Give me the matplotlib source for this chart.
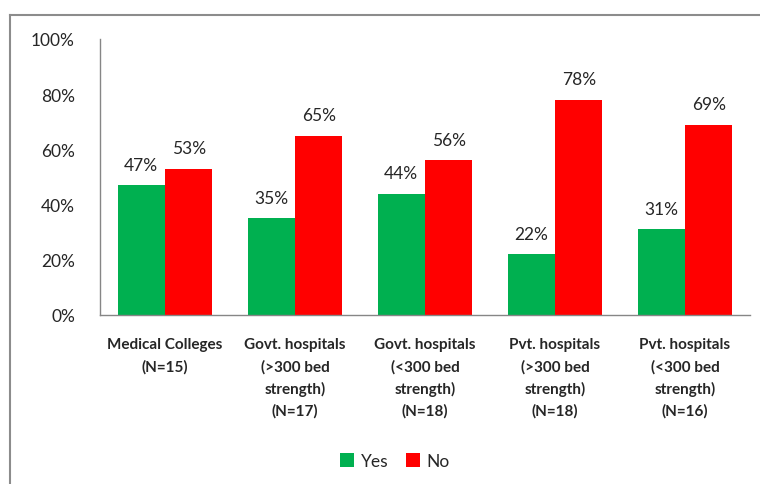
import numpy as np
import matplotlib
matplotlib.use('Agg')
import matplotlib.pyplot as plt
from matplotlib.lines import Line2D

categories = ['Medical Colleges\n(N=15)',
              'Govt. hospitals\n(>300 bed\nstrength)\n(N=17)',
              'Govt. hospitals\n(<300 bed\nstrength)\n(N=18)',
              'Pvt. hospitals\n(>300 bed\nstrength)\n(N=18)',
              'Pvt. hospitals\n(<300 bed\nstrength)\n(N=16)']
yes_vals = [47, 35, 44, 22, 31]
no_vals = [53, 65, 56, 78, 69]

GREEN = '#00B050'
RED = '#FF0000'
AXIS = '#868686'
TEXT = '#262626'

plt.rcParams['font.family'] = ['Lato', 'DejaVu Sans']

fig = plt.figure(figsize=(7.6, 4.85), dpi=100)
ax = fig.add_axes([100/760, 1 - 316/485, 650/760, 276/485])

x = np.arange(len(categories))
w = 0.365
b1 = ax.bar(x - w/2, yes_vals, w, color=GREEN, label='Yes')
b2 = ax.bar(x + w/2, no_vals, w, color=RED, label='No')

for bars, vals in ((b1, yes_vals), (b2, no_vals)):
    for r, v in zip(bars, vals):
        ax.annotate(f'{v}%', (r.get_x() + r.get_width()/2, v),
                    xytext=(0, 9), textcoords='offset points',
                    ha='center', va='bottom', fontsize=12.5, color=TEXT)

ax.set_xlim(-0.5, len(categories) - 0.5)
ax.set_ylim(0, 100)
ax.set_yticks(range(0, 101, 20))
ax.set_yticklabels([f'{t}%' for t in range(0, 101, 20)], fontsize=12.5, color=TEXT)
ax.set_xticks(x)
ax.set_xticklabels(categories, fontsize=11, fontweight='bold', color=TEXT,
                   linespacing=1.65, va='top')
ax.tick_params(axis='y', length=0, pad=18)
ax.tick_params(axis='x', length=0, pad=16)

for s in ('top', 'right'):
    ax.spines[s].set_visible(False)
for s in ('left', 'bottom'):
    ax.spines[s].set_color(AXIS)
    ax.spines[s].set_linewidth(1)

leg = fig.legend(handles=[b1, b2], labels=['Yes', 'No'], loc='center',
                 bbox_to_anchor=(395/760, 1 - 462/485), ncol=2, frameon=False,
                 fontsize=12.5, handlelength=0.8, handleheight=0.8,
                 handletextpad=0.4, columnspacing=1.0)
for t in leg.get_texts():
    t.set_color(TEXT)

# outer chart border (only left and top fall inside the crop)
fig.add_artist(Line2D([10/760, 10/760], [0, 1 - 16/485], transform=fig.transFigure,
                      color='#8c8c8c', linewidth=1.5))
fig.add_artist(Line2D([10/760, 1], [1 - 16/485, 1 - 16/485], transform=fig.transFigure,
                      color='#8c8c8c', linewidth=1.5))

fig.savefig('out.png', dpi=100)
